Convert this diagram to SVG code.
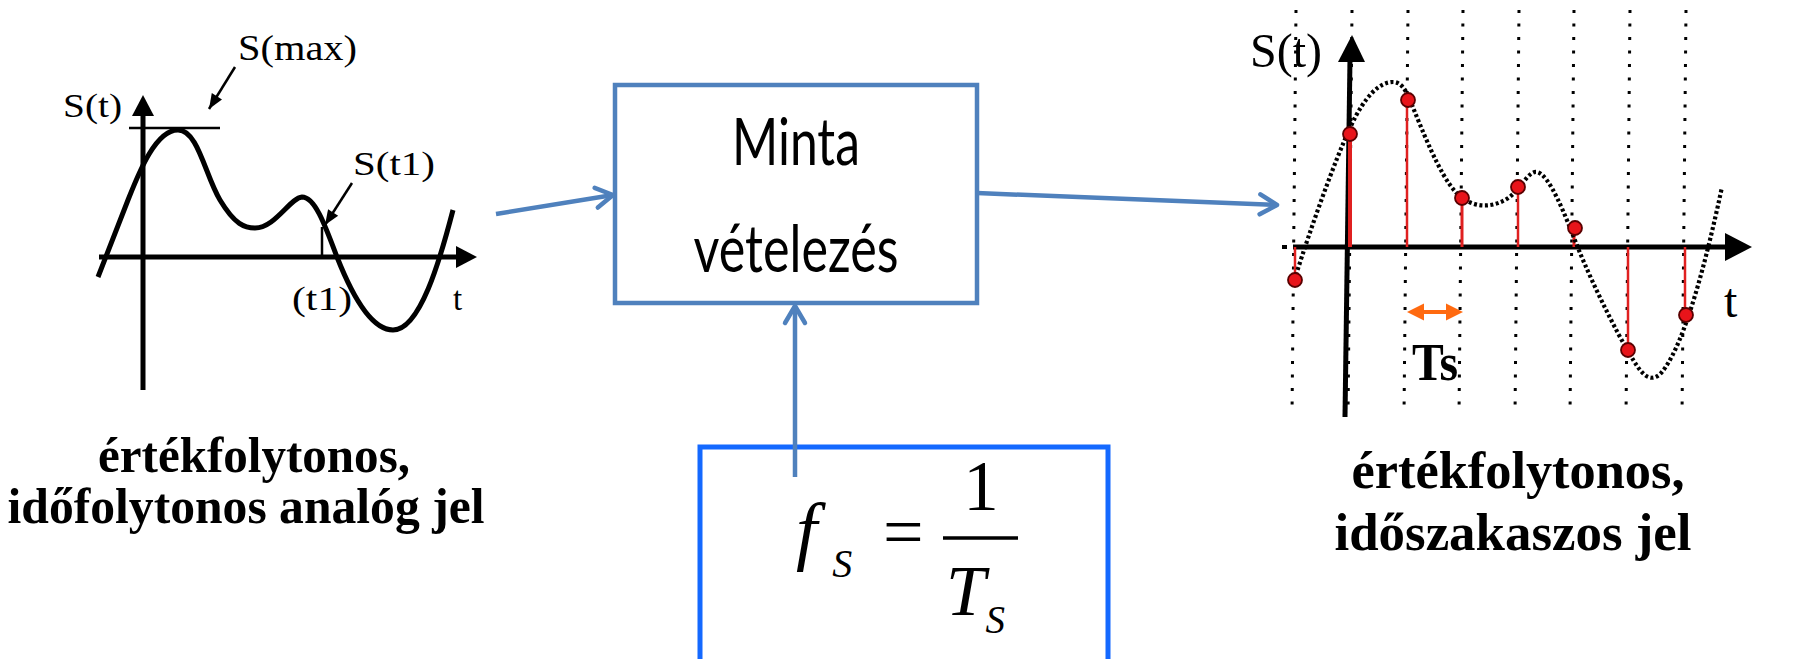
<svg xmlns="http://www.w3.org/2000/svg" width="1795" height="659" viewBox="0 0 1795 659">
<defs>
<style>
.ser{font-family:"Liberation Serif","Times New Roman",serif;fill:#000}
.cap{font-family:"Liberation Serif","Times New Roman",serif;font-weight:bold;fill:#000;text-anchor:middle}
.sans{font-family:Lato,"Open Sans","Liberation Sans",sans-serif;fill:#000;text-anchor:middle}
.conn{stroke:#4F81BD;stroke-width:4.5;fill:none;marker-end:url(#open)}
.axis{stroke:#000;stroke-width:5;fill:none}
.thin{stroke:#000;stroke-width:2.5;fill:none}
.grid{stroke:#000;stroke-width:3;stroke-dasharray:3 10.5;fill:none}
.stem{stroke:#E02020;fill:none}
.pt{fill:#E8141A;stroke:#5A0000;stroke-width:1.8}
</style>
<marker id="open" viewBox="-22 -14 26 28" refX="0" refY="0" markerWidth="26" markerHeight="28" markerUnits="userSpaceOnUse" orient="auto">
<path d="M-17,-10 L0,0 L-17,10" fill="none" stroke="#4F81BD" stroke-width="4.5" stroke-linecap="round" stroke-linejoin="round"/>
</marker>
<marker id="tri" viewBox="-16 -8 17 16" refX="0" refY="0" markerWidth="17" markerHeight="16" markerUnits="userSpaceOnUse" orient="auto">
<path d="M-15,-6 L0,0 L-15,6 Z" fill="#000"/>
</marker>
</defs>
<rect width="1795" height="659" fill="#fff"/>

<g id="analog-graph">
<line class="axis" x1="143" y1="390" x2="143" y2="112"/>
<path d="M143,95 L154,116 L132,116 Z" fill="#000"/>
<line class="axis" x1="99" y1="257" x2="460" y2="257"/>
<path d="M477,257 L456,246 L456,268 Z" fill="#000"/>
<line class="thin" x1="129" y1="128" x2="220" y2="128"/>
<line class="thin" x1="322" y1="227" x2="322" y2="257"/>
<path d="M98,277 L128,200 C138,175 155,130 178,130 C198,130 205,175 220,200 C235,225 245,228 255,228 C275,228 290,198 302,197 C315,197 325,225 337,257 C350,290 370,330 393,330 C420,330 440,260 453,210" fill="none" stroke="#000" stroke-width="5"/>
<line class="thin" x1="235" y1="67" x2="209" y2="109" marker-end="url(#tri)"/>
<line class="thin" x1="352" y1="183" x2="325" y2="225" marker-end="url(#tri)"/>
<text class="ser" x="63" y="117" font-size="33" textLength="59" lengthAdjust="spacingAndGlyphs">S(t)</text>
<text class="ser" x="238" y="60" font-size="35" textLength="119" lengthAdjust="spacingAndGlyphs">S(max)</text>
<text class="ser" x="353" y="175" font-size="33" textLength="82" lengthAdjust="spacingAndGlyphs">S(t1)</text>
<text class="ser" x="292" y="310" font-size="33" textLength="60" lengthAdjust="spacingAndGlyphs">(t1)</text>
<text class="ser" x="453" y="310" font-size="33">t</text>
</g>

<g id="analog-caption">
<text class="cap" x="254" y="472" font-size="50" textLength="312" lengthAdjust="spacingAndGlyphs">értékfolytonos,</text>
<text class="cap" x="246" y="523" font-size="50" textLength="477" lengthAdjust="spacingAndGlyphs">időfolytonos analóg jel</text>
</g>

<g id="sampler">
<rect x="615" y="85" width="362" height="218" fill="#fff" stroke="#4F81BD" stroke-width="4.5"/>
<text class="sans" x="796" y="165" font-size="66" textLength="128" lengthAdjust="spacingAndGlyphs">Minta</text>
<text class="sans" x="796" y="272" font-size="66" textLength="205" lengthAdjust="spacingAndGlyphs">vételezés</text>
</g>

<g id="formula">
<rect x="700" y="447" width="408" height="230" fill="#fff" stroke="#1469FF" stroke-width="5"/>
<text class="ser" x="796" y="556" font-size="76" font-style="italic">f<tspan font-size="40" dx="15" dy="21">S</tspan><tspan x="883" dy="-21" font-size="72" font-style="normal">=</tspan></text>
<line x1="943" y1="538" x2="1018" y2="538" stroke="#000" stroke-width="3.5"/>
<text class="ser" x="981" y="510" font-size="71" text-anchor="middle">1</text>
<text class="ser" x="946" y="615" font-size="71" font-style="italic">T<tspan font-size="39" dy="18">S</tspan></text>
</g>

<g id="sampled-graph">
<g class="grid">
<line x1="1296" y1="10" x2="1292" y2="415"/>
<line x1="1352" y1="10" x2="1348" y2="415"/>
<line x1="1408" y1="10" x2="1404" y2="415"/>
<line x1="1463" y1="10" x2="1459" y2="415"/>
<line x1="1519" y1="10" x2="1515" y2="415"/>
<line x1="1574" y1="10" x2="1570" y2="415"/>
<line x1="1630" y1="10" x2="1626" y2="415"/>
<line x1="1686" y1="10" x2="1682" y2="415"/>
</g>
<line class="axis" x1="1345" y1="417" x2="1350" y2="58"/>
<path d="M1352,35 L1365,62 L1338,62 Z" fill="#000"/>
<line x1="1282" y1="247" x2="1287" y2="247" stroke="#000" stroke-width="4"/>
<line x1="1293" y1="247" x2="1728" y2="247" stroke="#000" stroke-width="5"/>
<path d="M1752,247 L1725,233 L1725,261 Z" fill="#000"/>
<g class="stem">
<line x1="1295" y1="247" x2="1295" y2="280" stroke-width="2.5"/>
<line x1="1350" y1="247" x2="1350" y2="134" stroke-width="4"/>
<line x1="1407" y1="247" x2="1407" y2="100" stroke-width="2.5"/>
<line x1="1462" y1="247" x2="1462" y2="198" stroke-width="3"/>
<line x1="1518" y1="247" x2="1518" y2="187" stroke-width="2.5"/>
<line x1="1574" y1="247" x2="1574" y2="228" stroke-width="3"/>
<line x1="1628" y1="247" x2="1628" y2="350" stroke-width="2.5"/>
<line x1="1685" y1="247" x2="1685" y2="315" stroke-width="2.5"/>
</g>
<path d="M1296,275 C1310,230 1335,160 1350,128 C1365,95 1380,82 1393,82 C1400,82 1405,88 1410,100 C1430,150 1445,185 1462,198 C1475,207 1490,208 1505,200 C1520,192 1528,170 1537,172 C1550,175 1565,215 1578,248 C1595,290 1625,350 1640,370 C1648,380 1655,380 1662,372 C1680,350 1700,290 1722,187" fill="none" stroke="#000" stroke-width="4.2" stroke-dasharray="3 2.5"/>
<circle class="pt" cx="1295" cy="280" r="7"/>
<circle class="pt" cx="1350" cy="134" r="7"/>
<circle class="pt" cx="1408" cy="100" r="7"/>
<circle class="pt" cx="1462" cy="198" r="7"/>
<circle class="pt" cx="1518" cy="187" r="7"/>
<circle class="pt" cx="1575" cy="228" r="7"/>
<circle class="pt" cx="1628" cy="350" r="7"/>
<circle class="pt" cx="1686" cy="315" r="7"/>
<g id="ts-arrow" fill="#FF6A10">
<line x1="1420" y1="312" x2="1449" y2="312" stroke="#FF6A10" stroke-width="4"/>
<path d="M1407,312 L1424,303.5 L1424,320.5 Z"/>
<path d="M1463,312 L1446,303.5 L1446,320.5 Z"/>
</g>
<text class="ser" x="1250" y="67" font-size="49" textLength="72" lengthAdjust="spacingAndGlyphs">S(t)</text>
<text class="ser" x="1724" y="317" font-size="48">t</text>
<text class="ser" x="1412" y="380" font-size="52" font-weight="bold" textLength="46" lengthAdjust="spacingAndGlyphs">Ts</text>
</g>

<g id="sampled-caption">
<text class="cap" x="1518" y="488" font-size="53" textLength="333" lengthAdjust="spacingAndGlyphs">értékfolytonos,</text>
<text class="cap" x="1513" y="550" font-size="53" textLength="357" lengthAdjust="spacingAndGlyphs">időszakaszos jel</text>
</g>

<g id="connectors">
<line class="conn" x1="496" y1="214" x2="613" y2="195"/>
<line class="conn" x1="977" y1="193" x2="1277" y2="205"/>
<line class="conn" x1="795" y1="477" x2="795" y2="306"/>
</g>
</svg>
